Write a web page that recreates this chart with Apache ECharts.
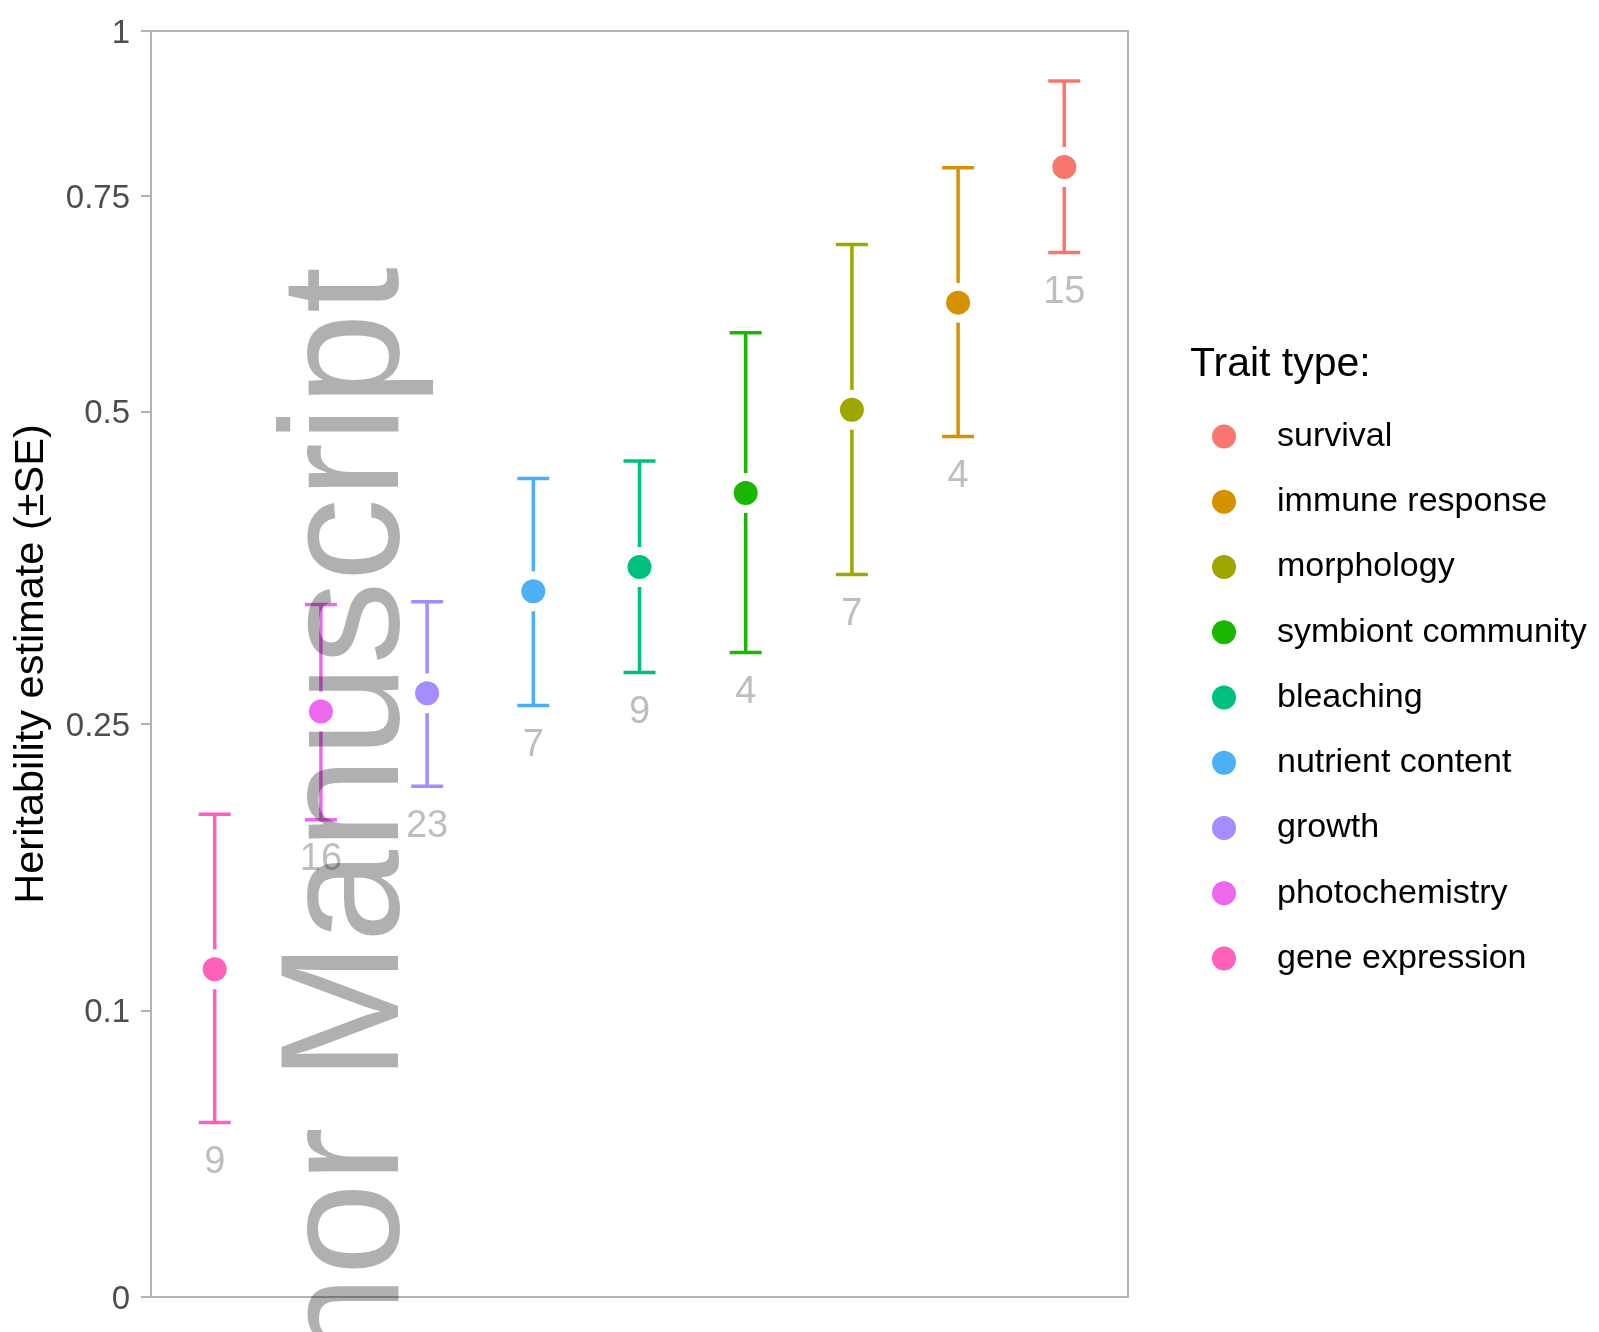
<!DOCTYPE html>
<html>
<head>
<meta charset="utf-8">
<script src="https://cdn.jsdelivr.net/npm/echarts@6/dist/echarts.min.js"></script>
<style>
  html, body { margin: 0; padding: 0; background: #ffffff; }
  #chart { width: 1599px; height: 1332px; }
</style>
</head>
<body>
<div id="chart"></div>
<script>
// Trait types, ordered left to right along the panel
const traits = ['gene expression', 'photochemistry', 'growth', 'nutrient content', 'bleaching',
                'symbiont community', 'morphology', 'immune response', 'survival'];
// Mean heritability estimate and the ±SE bounds for each trait type
const estimate = [0.118, 0.258, 0.270, 0.343, 0.362, 0.424, 0.502, 0.617, 0.790];
const lowerSE  = [0.056, 0.193, 0.212, 0.262, 0.284, 0.298, 0.356, 0.476, 0.677];
const upperSE  = [0.196, 0.333, 0.335, 0.437, 0.453, 0.583, 0.687, 0.789, 0.918];
// Number of estimates behind each mean
const nStudies = [9, 16, 23, 7, 9, 4, 7, 4, 15];
const traitColors = ['#FF61BA', '#ED68ED', '#A58CFF', '#4DAFF5', '#00C07D',
                     '#19B700', '#9EA700', '#D39200', '#F8766D'];
// Legend lists the traits from highest to lowest
const legendOrder = traits.slice().reverse();
// Y-axis breaks
const yTicks = [0, 0.1, 0.25, 0.5, 0.75, 1];
const yTickLabels = ['0', '0.1', '0.25', '0.5', '0.75', '1'];

// The y scale is log(h2 + 0.2)
const OFFSET = 0.2;
const tr = v => Math.log(v + OFFSET);

const FONT = '"Liberation Sans", Arial, Helvetica, sans-serif';

function renderItem(params, api) {
  const xi = api.value(0);
  const p = api.coord([xi, api.value(1)]);
  const lo = api.coord([xi, api.value(2)]);
  const hi = api.coord([xi, api.value(3)]);
  const color = api.visual('color');
  const capHalf = 16;
  const lw = 3.5;
  return {
    type: 'group',
    children: [
      { type: 'line', shape: { x1: p[0], y1: hi[1], x2: p[0], y2: lo[1] },
        style: { stroke: color, lineWidth: lw } },
      { type: 'line', shape: { x1: p[0] - capHalf, y1: hi[1], x2: p[0] + capHalf, y2: hi[1] },
        style: { stroke: color, lineWidth: lw } },
      { type: 'line', shape: { x1: p[0] - capHalf, y1: lo[1], x2: p[0] + capHalf, y2: lo[1] },
        style: { stroke: color, lineWidth: lw } },
      { type: 'circle', shape: { cx: p[0], cy: p[1], r: 20 }, style: { fill: '#ffffff' } },
      { type: 'circle', shape: { cx: p[0], cy: p[1], r: 12 }, style: { fill: color } },
      { type: 'text', x: p[0], y: lo[1] + 40,
        style: { text: String(api.value(4)), fill: '#BEBEBE', font: '38px ' + FONT,
                 align: 'center', verticalAlign: 'middle' } }
    ]
  };
}

const series = traits.map((name, i) => ({
  type: 'custom',
  name: name,
  renderItem: renderItem,
  clip: false,
  itemStyle: { color: traitColors[i] },
  encode: { x: 0, y: [1, 2, 3] },
  data: [[i, tr(estimate[i]), tr(lowerSE[i]), tr(upperSE[i]), nStudies[i]]]
}));

const tickPositions = yTicks.map(tr);

const chart = echarts.init(document.getElementById('chart'), null, { renderer: 'canvas' });
chart.setOption({
  animation: false,
  backgroundColor: '#ffffff',
  color: traitColors,
  grid: {
    left: 151, top: 31, width: 977, height: 1266,
    containLabel: false, outerBoundsMode: 'none',
    show: true, borderColor: '#B3B3B3', borderWidth: 2, backgroundColor: 'transparent'
  },
  xAxis: {
    type: 'value', min: -0.6, max: 8.6,
    axisLine: { show: false }, axisTick: { show: false },
    axisLabel: { show: false }, splitLine: { show: false }
  },
  yAxis: {
    type: 'value', min: tr(0), max: tr(1),
    axisLine: { show: true, onZero: false, lineStyle: { color: '#B3B3B3', width: 2 } },
    axisTick: { show: true, length: 10, customValues: tickPositions,
                lineStyle: { color: '#B3B3B3', width: 2 } },
    axisLabel: {
      show: true, customValues: tickPositions, margin: 21,
      color: '#4D4D4D', fontSize: 33, fontFamily: FONT,
      rich: { t: { color: '#4D4D4D', fontSize: 33, fontFamily: FONT, padding: [5, 0, 0, 0] } },
      formatter: function (val) {
        for (let i = 0; i < tickPositions.length; i++) {
          if (Math.abs(tickPositions[i] - val) < 1e-6) return '{t|' + yTickLabels[i] + '}';
        }
        return '';
      }
    },
    splitLine: { show: false }
  },
  legend: {
    data: legendOrder,
    orient: 'vertical',
    left: 1212, top: 419.5, padding: 0,
    itemWidth: 24, itemHeight: 24, itemGap: 31.25,
    icon: 'circle',
    selectedMode: false,
    textStyle: { fontSize: 34, fontFamily: FONT, color: '#000000',
                 padding: [0, 0, 0, 36] }
  },
  graphic: [
    { type: 'text', rotation: Math.PI / 2, x: 32, y: 664,
      style: { text: 'Heritability estimate (±SE)', font: '41.5px ' + FONT, fill: '#000000',
               align: 'center', verticalAlign: 'middle' } },
    { type: 'text', x: 1190, y: 364.5,
      style: { text: 'Trait type:', font: '41px ' + FONT, fill: '#000000',
               align: 'left', verticalAlign: 'middle' } },
    { type: 'text', rotation: Math.PI / 2, x: 351.5, y: 267, scaleX: 0.985, z: 100,
      style: { text: 'Author Manuscript', font: '169px ' + FONT, fill: 'rgba(0,0,0,0.31)',
               align: 'right', verticalAlign: 'middle' } }
  ],
  series: series
});
</script>
</body>
</html>
